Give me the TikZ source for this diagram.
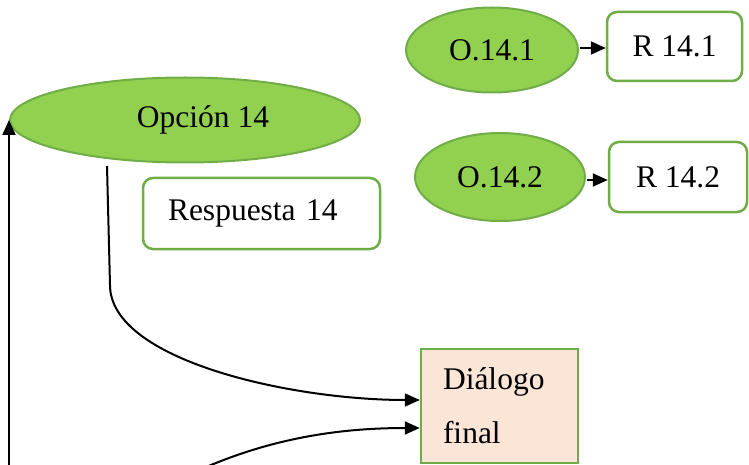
\documentclass[tikz,border=0pt]{standalone}
\usepackage{fontspec}
\setmainfont{Liberation Serif}
\usetikzlibrary{shapes.geometric,arrows.meta,calc}
\definecolor{gfill}{HTML}{92D050}
\definecolor{gline}{HTML}{70AD47}
\definecolor{peach}{HTML}{FBE5D6}
\tikzset{
  oval/.style={ellipse, draw=gline, fill=gfill, line width=2pt, inner sep=0pt, font=\fontsize{31.5}{38}\selectfont},
  rbox/.style={rectangle, rounded corners=10pt, draw=gline, fill=white, line width=2.5pt, inner sep=0pt, font=\fontsize{31.5}{38}\selectfont},
  dbox/.style={rectangle, draw=gline, fill=peach, line width=2.5pt, align=left, font=\fontsize{31.5}{54}\selectfont},
  conn/.style={draw=black, line width=2pt, -{Triangle[length=15pt,width=13pt]}}
}
\begin{document}
\begin{tikzpicture}[x=1pt,y=-1pt]
\useasboundingbox (0,0) rectangle (749,465);
\clip (0,0) rectangle (749,465);
% ellipses
\node[oval, minimum width=350pt, minimum height=85pt] (op) at (185,120) {\hspace*{36pt}Opción 14};
\node[oval, minimum width=172pt, minimum height=85pt] (o1) at (492,50) {O.14.1};
\node[oval, minimum width=170pt, minimum height=88pt] (o2) at (500,177) {O.14.2};
% boxes
\node[rbox, minimum width=135pt, minimum height=69pt] (r1) at (674.5,46.5) {R 14.1};
\node[rbox, minimum width=138pt, minimum height=70pt] (r2) at (678,177) {R 14.2};
\node[rbox, minimum width=237pt, minimum height=71pt, text width=187pt, inner xsep=25pt, align=left] (resp) at (261.5,213.5) {Respuesta 14};
\node[dbox, minimum width=157pt, minimum height=114pt, text width=113pt, inner xsep=22pt, inner ysep=0pt] (dlg) at (499.5,406) {Diálogo\\final};
% connectors
\coordinate (s1) at (580,48);
\coordinate (s2) at (587,180);
\draw[conn] (s1) -- (s1 -| r1.west);
\draw[conn] (s2) -- (s2 -| r2.west);
\coordinate (a1) at ($(dlg.west)+(0,-6)$);
\coordinate (a2) at ($(dlg.west)+(0,22)$);
\coordinate (p0) at (107,166);
\coordinate (p1) at (110,285);
\draw[conn] (p0) -- (p1) .. controls (110,360) and (290,400) .. (a1);
\coordinate (q0) at (204,468);
\draw[conn] (q0) .. controls (280,435) and (350,428) .. (a2);
\coordinate (v0) at (9,470);
\draw[conn] (v0) -- (v0 |- op.west);
\end{tikzpicture}
\end{document}
